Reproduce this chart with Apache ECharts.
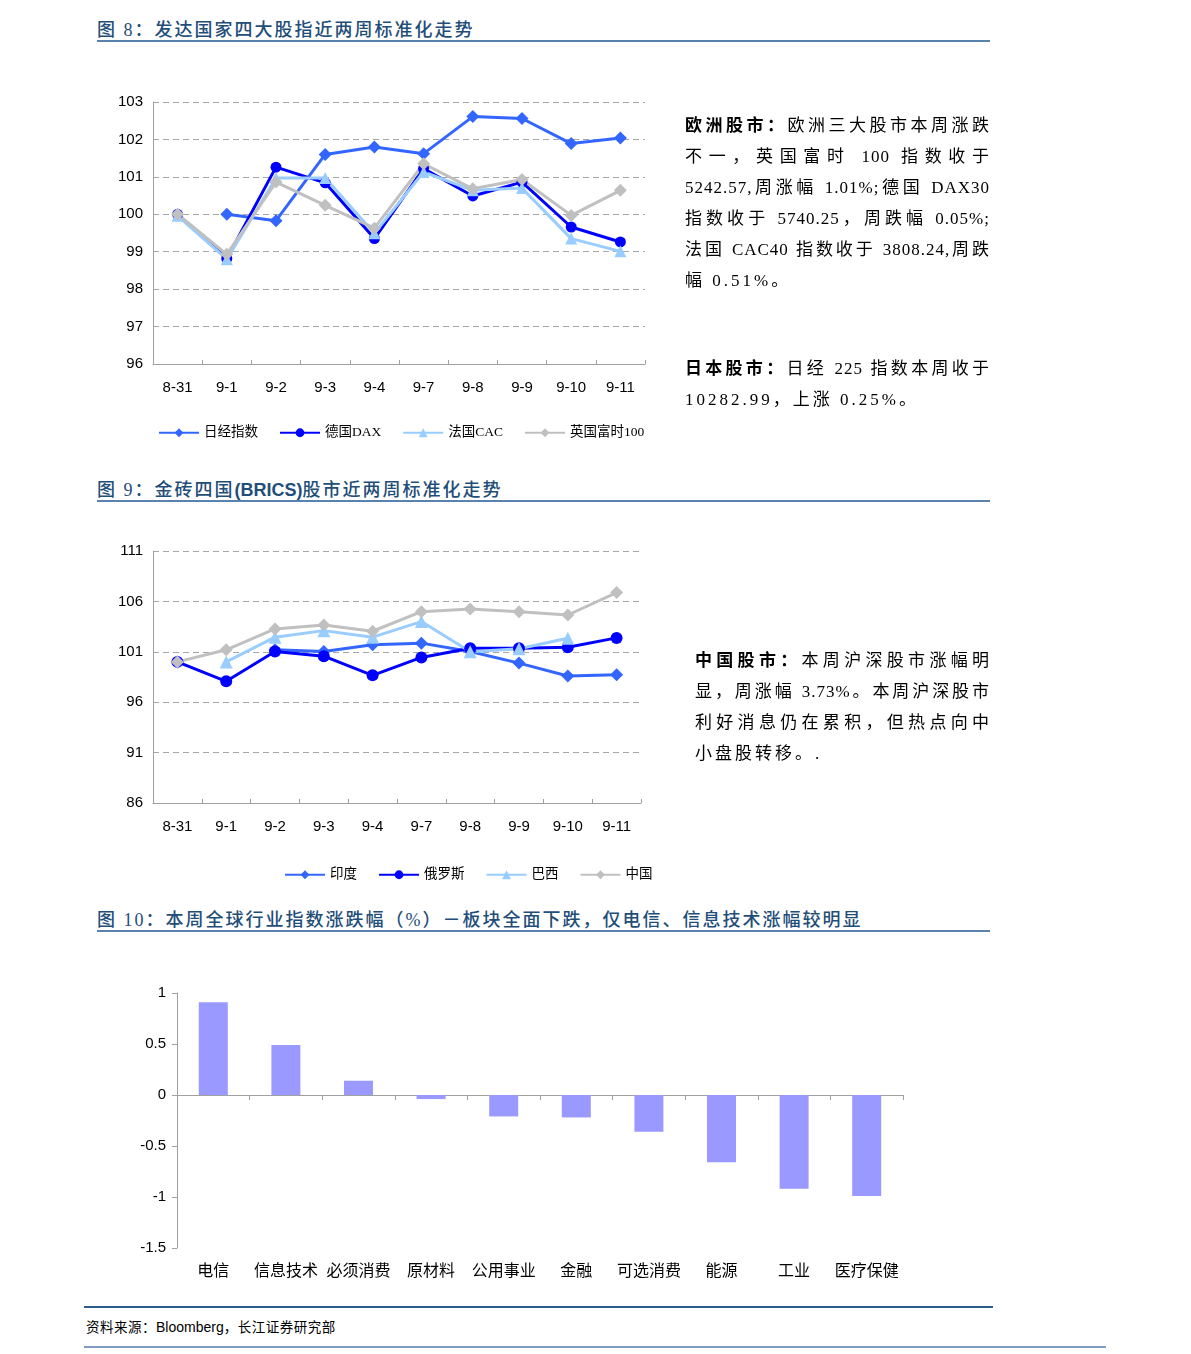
<!DOCTYPE html>
<html>
<head>
<meta charset="utf-8">
<script src="https://cdn.jsdelivr.net/npm/echarts@6/dist/echarts.min.js"></script>
<style>
  html, body { margin:0; padding:0; background:#fff; }
  body { width:1191px; height:1354px; position:relative; overflow:hidden; }
  .abs { position:absolute; }
  .title { position:absolute; left:97px; font-family:"Liberation Serif","Noto Sans CJK SC",serif; font-size:18px; letter-spacing:2px; color:#1F4E79; white-space:nowrap; line-height:22px; font-weight:500; }
  .title b.en { font-family:"Liberation Sans",Arial,sans-serif; font-weight:bold; letter-spacing:0; }
  .rule { position:absolute; height:0; }
  .para { position:absolute; font-family:"Liberation Serif","Noto Sans CJK SC",serif; font-size:17px; color:#000; line-height:31px; }
  .para div { white-space:nowrap; text-align:justify; text-align-last:justify; letter-spacing:1px; }
  .para div.last { text-align-last:left; letter-spacing:3px; }
  .para b { font-family:"Noto Sans CJK SC",sans-serif; font-weight:bold; }
  .foot { position:absolute; left:86px; top:1316px; font-family:"Liberation Serif","Noto Sans CJK SC",serif; font-size:13.5px; letter-spacing:0.5px; color:#000; }
  .foot span { font-family:"Liberation Sans",Arial,sans-serif; font-size:14px; letter-spacing:0; }
</style>
</head>
<body>
<div class="title" style="top:19px">图 8：发达国家四大股指近两周标准化走势</div>
<div class="rule" style="left:97px; top:40px; width:893px; border-top:2px solid #5A82AE"></div>

<div id="c1" class="abs" style="left:0; top:80px; width:700px; height:380px"></div>

<div class="para" style="left:685px; top:108px; width:305px">
  <div><b>欧洲股市：</b>欧洲三大股市本周涨跌</div>
  <div>不一，英国富时 100 指数收于</div>
  <div>5242.57,周涨幅 1.01%;德国 DAX30</div>
  <div>指数收于 5740.25，周跌幅 0.05%;</div>
  <div>法国 CAC40 指数收于 3808.24,周跌</div>
  <div class="last">幅 0.51%。</div>
</div>
<div class="para" style="left:685px; top:351px; width:305px">
  <div><b>日本股市：</b>日经 225 指数本周收于</div>
  <div class="last">10282.99，上涨 0.25%。</div>
</div>

<div class="title" style="top:479px">图 9：金砖四国<b class="en">(BRICS)</b>股市近两周标准化走势</div>
<div class="rule" style="left:97px; top:500px; width:893px; border-top:2px solid #5A82AE"></div>

<div id="c2" class="abs" style="left:0; top:530px; width:700px; height:370px"></div>

<div class="para" style="left:695px; top:643px; width:295px">
  <div><b>中国股市：</b>本周沪深股市涨幅明</div>
  <div>显，周涨幅 3.73%。本周沪深股市</div>
  <div>利好消息仍在累积，但热点向中</div>
  <div class="last">小盘股转移。.</div>
</div>

<div class="title" style="top:909px">图 10：本周全球行业指数涨跌幅（%）－板块全面下跌，仅电信、信息技术涨幅较明显</div>
<div class="rule" style="left:97px; top:930px; width:893px; border-top:2px solid #5A82AE"></div>

<div id="c3" class="abs" style="left:0; top:970px; width:950px; height:320px"></div>

<div class="rule" style="left:84px; top:1306px; width:909px; border-top:2px solid #2B5C8A"></div>
<div class="foot">资料来源：<span>Bloomberg</span>，长江证券研究部</div>
<div class="rule" style="left:84px; top:1346px; width:1022px; border-top:2px solid #7F9DC0"></div>

<script>
// ---------- Data ----------
var dates = ['8-31','9-1','9-2','9-3','9-4','9-7','9-8','9-9','9-10','9-11'];

var nikkei = [null, 100.00, 99.83, 101.60, 101.80, 101.62, 102.61, 102.56, 101.89, 102.04];
var dax    = [100.00, 98.82, 101.26, 100.84, 99.35, 101.22, 100.49, 100.86, 99.66, 99.26];
var cac    = [99.96, 98.80, 100.97, 100.97, 99.49, 101.13, 100.64, 100.70, 99.35, 99.01];
var ftse   = [100.00, 98.93, 100.86, 100.24, 99.63, 101.35, 100.68, 100.93, 99.97, 100.64];

var india  = [100.00, null, 101.20, 101.03, 101.69, 101.86, 101.03, 99.88, 98.60, 98.73];
var russia = [100.00, 98.07, 101.03, 100.57, 98.67, 100.44, 101.36, 101.36, 101.46, 102.38];
var brazil = [null, 100.00, 102.45, 103.10, 102.45, 104.00, 101.00, 101.30, 102.35, null];
var china  = [100.00, 101.20, 103.27, 103.66, 103.04, 104.98, 105.24, 104.98, 104.65, 106.88];

var sectors = ['电信','信息技术','必须消费','原材料','公用事业','金融','可选消费','能源','工业','医疗保健'];
var sectorChg = [0.91, 0.49, 0.14, -0.04, -0.21, -0.22, -0.36, -0.66, -0.92, -0.99];

// ---------- Styles ----------
var C_MID = '#3366FF', C_DARK = '#0000FF', C_LIGHT = '#99CCFF', C_GRAY = '#C0C0C0';
var axisColor = '#A0A0A0';
var numFont = 'Liberation Sans, Arial, sans-serif';
var legFont = 'Liberation Serif, Noto Sans CJK SC, serif';

function lineSeries(name, data, color, symbol, size) {
  return {
    name: name, type: 'line', data: data, connectNulls: false,
    symbol: symbol, symbolSize: size, showAllSymbol: true,
    lineStyle: { color: color, width: 3 },
    itemStyle: { color: color, borderWidth: 0 },
    emphasis: { disabled: true },
    animation: false
  };
}

function lineOption(grid, yMin, yMax, yInt, legendTop, legendLeft, series) {
  return {
    animation: false,
    grid: grid,
    legend: {
      left: legendLeft, top: legendTop, itemWidth: 40, itemHeight: 11, itemGap: 21,
      textStyle: { fontFamily: legFont, fontSize: 13.5, color: '#000' },
      data: series.map(function (s) { return s.name; })
    },
    xAxis: {
      type: 'category', data: dates, boundaryGap: true,
      axisLine: { lineStyle: { color: axisColor, width: 1 } },
      axisTick: { show: true, inside: true, length: 4, interval: 0, lineStyle: { color: axisColor } },
      axisLabel: { interval: 0, margin: 16, fontFamily: numFont, fontSize: 15, color: '#000' }
    },
    yAxis: {
      type: 'value', min: yMin, max: yMax, interval: yInt,
      axisLine: { show: true, lineStyle: { color: axisColor, width: 1 } },
      axisTick: { show: false },
      axisLabel: { margin: 10, fontFamily: numFont, fontSize: 15, color: '#000' },
      splitLine: { show: true, lineStyle: { color: '#A6A6A6', type: [6, 4], width: 1 } }
    },
    series: series
  };
}

var c1 = echarts.init(document.getElementById('c1'), null, { renderer: 'canvas' });
c1.setOption(lineOption(
  { left: 153, top: 22, width: 492, height: 262 }, 96, 103, 1, 341, 153,
  [
    lineSeries('日经指数', nikkei, C_MID, 'diamond', 13),
    lineSeries('德国DAX', dax, C_DARK, 'circle', 11),
    lineSeries('法国CAC', cac, C_LIGHT, 'triangle', 12),
    lineSeries('英国富时100', ftse, C_GRAY, 'diamond', 13)
  ]
));

var c2 = echarts.init(document.getElementById('c2'), null, { renderer: 'canvas' });
c2.setOption(lineOption(
  { left: 153, top: 21, width: 488, height: 252 }, 86, 111, 5, 333, 279,
  [
    lineSeries('印度', india, C_MID, 'diamond', 13),
    lineSeries('俄罗斯', russia, C_DARK, 'circle', 12),
    lineSeries('巴西', brazil, C_LIGHT, 'triangle', 13),
    lineSeries('中国', china, C_GRAY, 'diamond', 13)
  ]
));

var c3 = echarts.init(document.getElementById('c3'), null, { renderer: 'canvas' });
c3.setOption({
  animation: false,
  grid: { left: 177, top: 23, width: 726, height: 255 },
  xAxis: [
    {
      type: 'category', data: sectors, boundaryGap: true,
      axisLine: { show: true, onZero: true, lineStyle: { color: axisColor, width: 1 } },
      axisTick: { show: true, inside: false, length: 5, interval: 0, lineStyle: { color: axisColor } },
      axisLabel: { show: false }
    },
    {
      type: 'category', data: sectors, boundaryGap: true, position: 'bottom',
      axisLine: { show: false, onZero: false },
      axisTick: { show: false },
      axisLabel: { interval: 0, margin: 14, fontFamily: 'Noto Sans CJK SC, sans-serif', fontSize: 16, color: '#000' }
    }
  ],
  yAxis: {
    type: 'value', min: -1.5, max: 1, interval: 0.5,
    axisLine: { show: true, lineStyle: { color: axisColor, width: 1 } },
    axisTick: { show: true, length: 5, lineStyle: { color: axisColor } },
    axisLabel: { margin: 11, fontFamily: numFont, fontSize: 15, color: '#000' },
    splitLine: { show: false }
  },
  series: [{
    type: 'bar', data: sectorChg, xAxisIndex: 0, barWidth: 29,
    itemStyle: { color: '#9999FF' },
    emphasis: { disabled: true }
  }]
});
</script>
</body>
</html>
